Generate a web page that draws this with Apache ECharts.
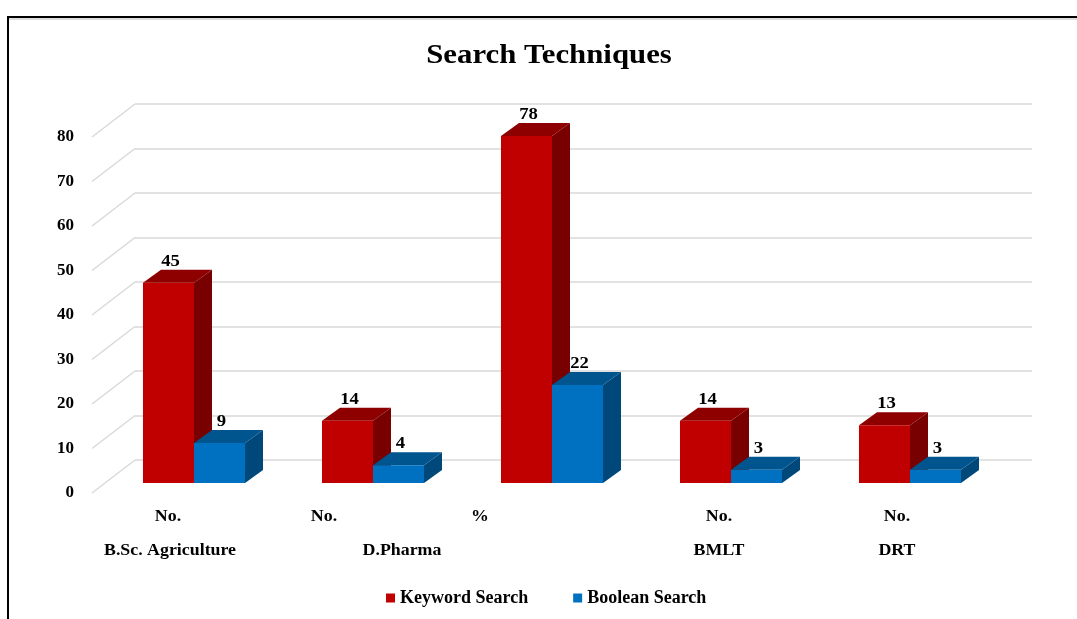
<!DOCTYPE html>
<html>
<head>
<meta charset="utf-8">
<script src="https://cdn.jsdelivr.net/npm/echarts@6/dist/echarts.min.js"></script>
<style>
  html, body { margin: 0; padding: 0; background: #fff; }
  #chart { width: 1077px; height: 619px; }
</style>
</head>
<body>
<div id="chart"></div>
<script>
// data
const categories = ['B.Sc. Agriculture No.', 'D.Pharma No.', '%', 'BMLT No.', 'DRT No.'];
const keywordSearch = [45, 14, 78, 14, 13];
const booleanSearch = [9, 4, 22, 3, 3];
const yTicks = [0, 10, 20, 30, 40, 50, 60, 70, 80];
const unitLabels = ['No.', 'No.', '%', 'No.', 'No.'];
const programLabels = ['B.Sc. Agriculture', 'D.Pharma', 'BMLT', 'DRT'];

// layout of the loose category labels (pixels)
const unitX = [168, 324, 480, 719, 897];
const programX = [170, 402, 719, 897];

const FONT = '"Liberation Serif", "Times New Roman", serif';
const depth = [18, -13];      // bar depth offset
const wallShift = [-43, 33];  // back wall -> front edge

let chart = echarts.init(document.getElementById('chart'));

// 3D-ish bar: front face, top face, side face + value label
function makeBar(seriesIdx, colors) {
    return function (params, api) {
        let idx = api.value(0);
        let v = api.value(1);
        let base = api.coord([idx, 0]);
        let top = api.coord([idx, v]);
        let band = api.size([1, 0])[0];
        let bw = band * 0.285;
        let x0 = seriesIdx === 0 ? base[0] - bw : base[0];
        let x1 = x0 + bw;
        let y0 = base[1], y1 = top[1];
        let dx = depth[0], dy = depth[1];
        return {
            type: 'group',
            children: [
                {
                    type: 'polygon',
                    shape: {points: [[x1, y0], [x1 + dx, y0 + dy], [x1 + dx, y1 + dy], [x1, y1]]},
                    style: {fill: colors[2]}
                },
                {
                    type: 'polygon',
                    shape: {points: [[x0, y1], [x1, y1], [x1 + dx, y1 + dy], [x0 + dx, y1 + dy]]},
                    style: {fill: colors[1]}
                },
                {
                    type: 'rect',
                    shape: {x: x0, y: y1, width: bw, height: y0 - y1},
                    style: {fill: colors[0]}
                },
                {
                    type: 'text',
                    x: (x0 + x1) / 2 + 2,
                    y: y1 + dy,
                    scaleX: 1.1,
                    style: {
                        text: String(v),
                        fill: '#000',
                        font: 'bold 17px ' + FONT,
                        align: 'center',
                        verticalAlign: 'bottom'
                    }
                }
            ]
        };
    };
}

let graphics = [
    {
        type: 'polyline',
        shape: {points: [[8, 619], [8, 17], [1077, 17]]},
        style: {stroke: '#000', lineWidth: 2, fill: null}
    },
    {
        type: 'line',
        shape: {x1: 9, y1: 19, x2: 1077, y2: 19},
        style: {stroke: '#bbb', lineWidth: 1}
    },
    {
        // chart title
        type: 'text', x: 549, y: 56, scaleX: 1.1,
        style: {
            text: 'Search Techniques', font: 'bold 28px ' + FONT, fill: '#000',
            align: 'center', verticalAlign: 'middle'
        }
    }
];
unitLabels.forEach(function (t, i) {
    graphics.push({
        type: 'text', x: unitX[i], y: 517, scaleX: 1.05,
        style: {text: t, font: 'bold 17px ' + FONT, fill: '#000', align: 'center', verticalAlign: 'middle'}
    });
});
programLabels.forEach(function (t, i) {
    graphics.push({
        type: 'text', x: programX[i], y: 551, scaleX: 1.05,
        style: {text: t, font: 'bold 17px ' + FONT, fill: '#000', align: 'center', verticalAlign: 'middle'}
    });
});

chart.setOption({
    animation: false,
    legend: {
        left: 381,
        top: 584,
        itemWidth: 9,
        itemHeight: 9,
        itemGap: 45,
        icon: 'rect',
        textStyle: {fontFamily: FONT, fontWeight: 'bold', fontSize: 18, color: '#000'},
        data: [
            {name: 'Keyword Search', itemStyle: {color: '#C00000'}},
            {name: 'Boolean Search', itemStyle: {color: '#0070C0'}}
        ]
    },
    graphic: graphics,
    grid: [
        // back wall
        {left: 135, width: 897, top: 104, height: 356},
        // front edge, carries the tick labels
        {left: 92, width: 10, top: 137, height: 356},
        // plane the bars stand on
        {left: 104.5, width: 895, top: 127, height: 356}
    ],
    xAxis: [
        {gridIndex: 0, type: 'category', data: categories, show: false},
        {gridIndex: 1, type: 'category', data: categories, show: false},
        {gridIndex: 2, type: 'category', data: categories, show: false}
    ],
    yAxis: [
        {
            gridIndex: 0, type: 'value', min: 0, max: 80, interval: 10,
            axisLine: {show: false}, axisTick: {show: false}, axisLabel: {show: false},
            splitLine: {lineStyle: {color: '#D9D9D9', width: 1.5}}
        },
        {
            gridIndex: 1, type: 'value', min: 0, max: 80, interval: 10,
            axisLine: {show: false}, axisTick: {show: false}, splitLine: {show: false},
            axisLabel: {margin: 18, fontFamily: FONT, fontWeight: 'bold', fontSize: 17, color: '#000'}
        },
        {gridIndex: 2, type: 'value', min: 0, max: 80, show: false}
    ],
    series: [
        {
            // diagonal floor lines from the back wall to the front edge
            type: 'custom',
            name: 'walls',
            xAxisIndex: 0,
            yAxisIndex: 0,
            silent: true,
            data: yTicks.map(function (t) { return [0, t]; }),
            renderItem: function (params, api) {
                let y = api.coord([0, api.value(1)])[1];
                let x = params.coordSys.x;
                return {
                    type: 'line',
                    shape: {x1: x, y1: y, x2: x + wallShift[0], y2: y + wallShift[1]},
                    style: {stroke: '#D9D9D9', lineWidth: 1.5}
                };
            }
        },
        {
            type: 'custom',
            name: 'Keyword Search',
            xAxisIndex: 2,
            yAxisIndex: 2,
            itemStyle: {color: '#C00000'},
            data: keywordSearch.map(function (v, i) { return [i, v]; }),
            renderItem: makeBar(0, ['#C00000', '#8E0000', '#780000'])
        },
        {
            type: 'custom',
            name: 'Boolean Search',
            xAxisIndex: 2,
            yAxisIndex: 2,
            itemStyle: {color: '#0070C0'},
            data: booleanSearch.map(function (v, i) { return [i, v]; }),
            renderItem: makeBar(1, ['#0070C0', '#00558F', '#00477A'])
        }
    ]
});
</script>
</body>
</html>
